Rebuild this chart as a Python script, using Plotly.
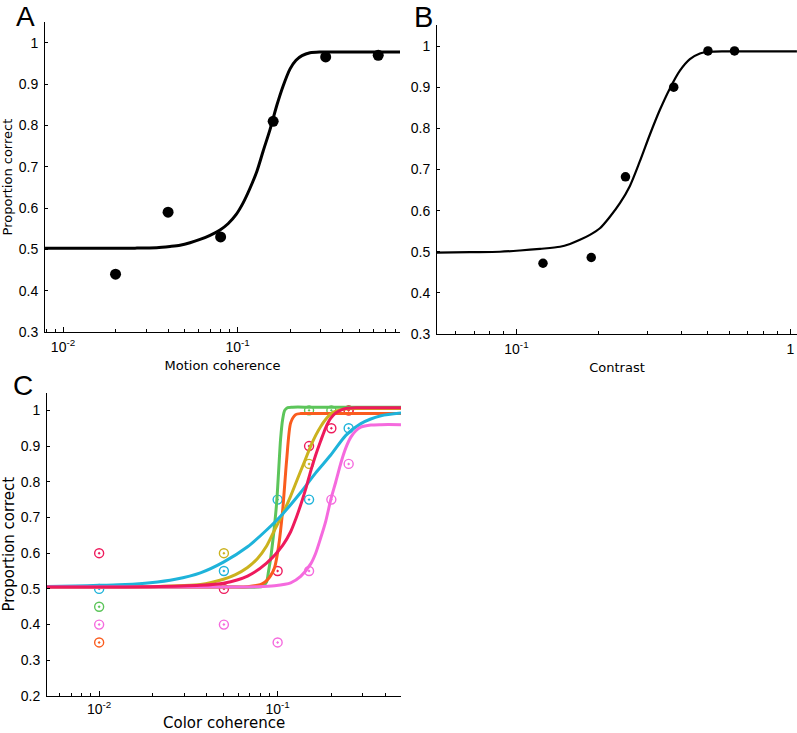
import plotly.graph_objects as go

# ---------------- Panel A : motion coherence ----------------
a_coh = [0.02, 0.04, 0.08, 0.16, 0.32, 0.64]
a_pc = [0.44, 0.59, 0.53, 0.81, 0.966, 0.97]
a_fit_x = [0.00788, 0.01172, 0.0174, 0.02586, 0.03443, 0.04103, 0.04682, 0.05343, 0.06097,
           0.06958, 0.07938, 0.08823, 0.09804, 0.1075, 0.1179, 0.1293, 0.14, 0.1535,
           0.1683, 0.1823, 0.2, 0.2163, 0.2342, 0.2603, 0.2971, 0.3867, 0.5745, 0.8535]
a_fit_y = [0.503, 0.503, 0.503, 0.503, 0.504, 0.507, 0.510, 0.516, 0.524,
           0.534, 0.547, 0.562, 0.584, 0.612, 0.648, 0.69, 0.737, 0.79,
           0.85, 0.895, 0.937, 0.958, 0.969, 0.976, 0.978, 0.978, 0.978, 0.978]

# ---------------- Panel B : contrast ----------------
b_con = [0.125, 0.1875, 0.25, 0.375, 0.5, 0.625]
b_pc = [0.472, 0.486, 0.682, 0.90, 0.988, 0.988]
b_fit_x = [0.05128, 0.06765, 0.08708, 0.103, 0.1219, 0.1442, 0.1568, 0.1705, 0.1854, 0.2017,
           0.2194, 0.2386, 0.2595, 0.2822, 0.307, 0.3339, 0.3632, 0.395, 0.4296, 0.4673,
           0.5083, 0.5766, 0.7739, 1.0561]
b_fit_y = [0.498, 0.499, 0.500, 0.503, 0.507, 0.512, 0.519, 0.529, 0.541, 0.557,
           0.585, 0.618, 0.66, 0.72, 0.785, 0.845, 0.897, 0.94, 0.968, 0.982,
           0.986, 0.987, 0.987, 0.987]

# ---------------- Panel C : color coherence ----------------
green_pts_x = [0.01, 0.15, 0.2]
green_pts_y = [0.45, 1.0, 1.0]
green_fit_x = [0.005104, 0.01, 0.01934, 0.03694, 0.05808, 0.07719, 0.08235, 0.08675, 0.08898,
               0.09135, 0.09374, 0.09618, 0.09871, 0.1013, 0.1039, 0.1067, 0.1095, 0.1138,
               0.1215, 0.1532, 0.2571, 0.497]
green_fit_y = [0.505, 0.505, 0.505, 0.505, 0.505, 0.505, 0.507, 0.52, 0.55,
               0.585, 0.63, 0.68, 0.74, 0.83, 0.92, 0.975, 1.0, 1.008,
               1.009, 1.009, 1.009, 1.009]

orange_pts_x = [0.01, 0.25]
orange_pts_y = [0.35, 1.0]
orange_fit_x = [0.005104, 0.01, 0.01934, 0.03694, 0.05808, 0.06784, 0.07719, 0.08235, 0.08675,
                0.09135, 0.09618, 0.1013, 0.1067, 0.1123, 0.1183, 0.1262, 0.1346, 0.1532,
                0.2571, 0.497]
orange_fit_y = [0.505, 0.505, 0.505, 0.505, 0.505, 0.506, 0.51, 0.515, 0.523,
                0.537, 0.56, 0.62, 0.72, 0.86, 0.965, 0.988, 0.991, 0.991,
                0.991, 0.991]

yellow_pts_x = [0.05, 0.15]
yellow_pts_y = [0.6, 0.85]
yellow_fit_x = [0.005104, 0.01, 0.01934, 0.03694, 0.04972, 0.05808, 0.06784, 0.07719, 0.08675,
                0.09618, 0.1067, 0.1183, 0.1262, 0.1346, 0.1437, 0.1532, 0.1634, 0.1744,
                0.1861, 0.1985, 0.2118, 0.241, 0.2926, 0.497]
yellow_fit_y = [0.505, 0.505, 0.506, 0.512, 0.527, 0.54, 0.56, 0.585, 0.62,
                0.665, 0.71, 0.76, 0.795, 0.83, 0.865, 0.9, 0.93, 0.955,
                0.975, 0.99, 0.998, 1.004, 1.005, 1.005]

cyan_pts_x = [0.01, 0.05, 0.1, 0.15, 0.25]
cyan_pts_y = [0.5, 0.55, 0.75, 0.75, 0.95]
cyan_fit_x = [0.005104, 0.007331, 0.01, 0.014, 0.01934, 0.02673, 0.03694, 0.04972, 0.06784,
              0.08675, 0.1067, 0.1346, 0.1634, 0.1985, 0.241, 0.2926, 0.3791, 0.497]
cyan_fit_y = [0.507, 0.508, 0.51, 0.512, 0.517, 0.527, 0.545, 0.575, 0.618,
              0.665, 0.71, 0.77, 0.825, 0.875, 0.93, 0.963, 0.985, 0.993]

pink_pts_x = [0.01, 0.05, 0.1, 0.15, 0.2, 0.25]
pink_pts_y = [0.4, 0.4, 0.35, 0.55, 0.75, 0.85]
pink_fit_x = [0.005104, 0.01, 0.01934, 0.03694, 0.05808, 0.07719, 0.09618, 0.1183, 0.1346,
              0.1532, 0.1634, 0.1744, 0.1861, 0.1985, 0.2118, 0.2259, 0.241, 0.2571,
              0.2743, 0.2926, 0.3331, 0.3791, 0.497]
pink_fit_y = [0.505, 0.505, 0.505, 0.505, 0.505, 0.506, 0.509, 0.517, 0.535,
              0.57, 0.6, 0.643, 0.69, 0.75, 0.80, 0.852, 0.895, 0.925,
              0.943, 0.953, 0.959, 0.96, 0.96]

crimson_pts_x = [0.01, 0.05, 0.1, 0.15, 0.2, 0.25]
crimson_pts_y = [0.6, 0.5, 0.55, 0.9, 0.95, 1.0]
crimson_fit_x = [0.005104, 0.01, 0.01934, 0.03694, 0.04972, 0.06784, 0.08675, 0.1067, 0.1183,
                 0.1262, 0.1346, 0.1437, 0.1532, 0.1634, 0.1744, 0.1861, 0.1985, 0.2118,
                 0.2259, 0.241, 0.2743, 0.3791, 0.497]
crimson_fit_y = [0.505, 0.505, 0.506, 0.51, 0.516, 0.536, 0.572, 0.622, 0.66,
                 0.695, 0.735, 0.78, 0.83, 0.875, 0.915, 0.952, 0.978, 0.993,
                 1.001, 1.005, 1.007, 1.007, 1.007]

y_ticks_ab = [0.3, 0.4, 0.5, 0.6, 0.7, 0.8, 0.9, 1.0]
y_text_ab = ["0.3", "0.4", "0.5", "0.6", "0.7", "0.8", "0.9", "1"]
y_ticks_c = [0.2, 0.3, 0.4, 0.5, 0.6, 0.7, 0.8, 0.9, 1.0]
y_text_c = ["0.2", "0.3", "0.4", "0.5", "0.6", "0.7", "0.8", "0.9", "1"]

series_c = [
    ("#5cc55a", green_fit_x, green_fit_y, green_pts_x, green_pts_y),
    ("#fa5c1e", orange_fit_x, orange_fit_y, orange_pts_x, orange_pts_y),
    ("#cbb21e", yellow_fit_x, yellow_fit_y, yellow_pts_x, yellow_pts_y),
    ("#1eb3da", cyan_fit_x, cyan_fit_y, cyan_pts_x, cyan_pts_y),
    ("#f56ade", pink_fit_x, pink_fit_y, pink_pts_x, pink_pts_y),
    ("#ee1a5c", crimson_fit_x, crimson_fit_y, crimson_pts_x, crimson_pts_y),
]

fig = go.Figure()

# Panel A
fig.add_trace(go.Scatter(x=a_fit_x, y=a_fit_y, mode="lines", xaxis="x", yaxis="y",
                         line=dict(color="black", width=3, shape="spline", smoothing=0.8),
                         showlegend=False, hoverinfo="skip"))
fig.add_trace(go.Scatter(x=a_coh, y=a_pc, mode="markers", xaxis="x", yaxis="y",
                         marker=dict(color="black", size=11), showlegend=False))

# Panel B
fig.add_trace(go.Scatter(x=b_fit_x, y=b_fit_y, mode="lines", xaxis="x2", yaxis="y2",
                         line=dict(color="black", width=2.2, shape="spline", smoothing=0.8),
                         showlegend=False, hoverinfo="skip"))
fig.add_trace(go.Scatter(x=b_con, y=b_pc, mode="markers", xaxis="x2", yaxis="y2",
                         marker=dict(color="black", size=9.5), showlegend=False))

# Panel C
for col, fx, fy, px, py in series_c:
    fig.add_trace(go.Scatter(x=px, y=py, mode="markers", xaxis="x3", yaxis="y3",
                             marker=dict(symbol="circle-open-dot", color=col, size=9,
                                         line=dict(width=1.4, color=col)),
                             showlegend=False))
for col, fx, fy, px, py in series_c:
    fig.add_trace(go.Scatter(x=fx, y=fy, mode="lines", xaxis="x3", yaxis="y3",
                             line=dict(color=col, width=3, shape="spline", smoothing=0.7),
                             showlegend=False, hoverinfo="skip"))


def minor_vals(decades):
    vals = []
    for d in decades:
        for m in range(2, 10):
            vals.append(round(m * d, 6))
    return vals


tick_font = dict(family="Liberation Sans, Arial, sans-serif", size=14, color="black")
title_font = dict(family="DejaVu Sans, sans-serif", size=13, color="black")
title_font_c = dict(family="DejaVu Sans, sans-serif", size=15, color="black")

common_x = dict(type="log", showline=True, linecolor="black", linewidth=1, ticks="inside",
                ticklen=5, tickcolor="black", showgrid=False, zeroline=False,
                tickfont=tick_font, ticklabelstandoff=2, automargin=False)
common_y = dict(showline=True, linecolor="black", linewidth=1, ticks="inside", ticklen=3,
                tickcolor="black", showgrid=False, zeroline=False, tickfont=tick_font,
                ticklabelstandoff=3, automargin=False)

fig.update_layout(
    width=797, height=733,
    margin=dict(l=0, r=0, t=0, b=0, autoexpand=False),
    paper_bgcolor="white", plot_bgcolor="white",
    xaxis=dict(common_x, domain=[0.0565, 0.5019], range=[-2.103, -0.069], anchor="y",
               tickvals=[0.01, 0.1], ticktext=["10<sup>-2</sup>", "10<sup>-1</sup>"],
               minor=dict(ticks="inside", ticklen=3, tickcolor="black",
                          tickvals=minor_vals([0.001, 0.01, 0.1])),
               title=dict(text="Motion coherence", standoff=7, font=title_font)),
    yaxis=dict(common_y, domain=[0.5471, 0.9697], range=[0.3, 1.05], anchor="x",
               tickvals=y_ticks_ab, ticktext=y_text_ab,
               title=dict(text="Proportion correct", standoff=6, font=title_font)),
    xaxis2=dict(common_x, domain=[0.5483, 1.0], range=[-1.29, 0.024], anchor="y2",
                tickvals=[0.1, 1], ticktext=["10<sup>-1</sup>", "1"],
                minor=dict(ticks="inside", ticklen=3, tickcolor="black",
                           tickvals=minor_vals([0.01, 0.1])),
                title=dict(text="Contrast", standoff=7, font=title_font)),
    yaxis2=dict(common_y, domain=[0.5443, 0.9653], range=[0.3, 1.05], anchor="x2",
                tickvals=y_ticks_ab, ticktext=y_text_ab),
    xaxis3=dict(common_x, domain=[0.059, 0.5031], range=[-2.292, -0.309], anchor="y3",
                tickvals=[0.01, 0.1], ticktext=["10<sup>-2</sup>", "10<sup>-1</sup>"],
                ticklabelstandoff=0,
                minor=dict(ticks="inside", ticklen=3, tickcolor="black",
                           tickvals=minor_vals([0.001, 0.01, 0.1]))),
    yaxis3=dict(common_y, domain=[0.0505, 0.4645], range=[0.2, 1.05], anchor="x3",
                tickvals=y_ticks_c, ticktext=y_text_c,
                title=dict(text="Proportion correct", standoff=6, font=title_font_c)),
    annotations=[
        dict(text="A", x=25 / 797, y=1.0, xref="paper", yref="paper", showarrow=False,
             xanchor="center", yanchor="top", borderpad=0,
             font=dict(family="Liberation Sans, Arial, sans-serif", size=28, color="black")),
        dict(text="B", x=423 / 797, y=1.0, xref="paper", yref="paper", showarrow=False,
             xanchor="center", yanchor="top", borderpad=0,
             font=dict(family="Liberation Sans, Arial, sans-serif", size=29, color="black")),
        dict(text="C", x=23 / 797, y=1 - 385 / 733, xref="paper", yref="paper", showarrow=False,
             xanchor="center", yanchor="middle",
             font=dict(family="Liberation Sans, Arial, sans-serif", size=28, color="black")),
        dict(text="Color coherence", x=224 / 797, y=0.0, xref="paper", yref="paper",
             showarrow=False, xanchor="center", yanchor="bottom", borderpad=0,
             font=title_font_c),
    ],
)

fig.write_html("out.html",
               config={"displayModeBar": False},
               post_script="document.body.style.margin='0px';"
                           "document.documentElement.style.margin='0px';")
